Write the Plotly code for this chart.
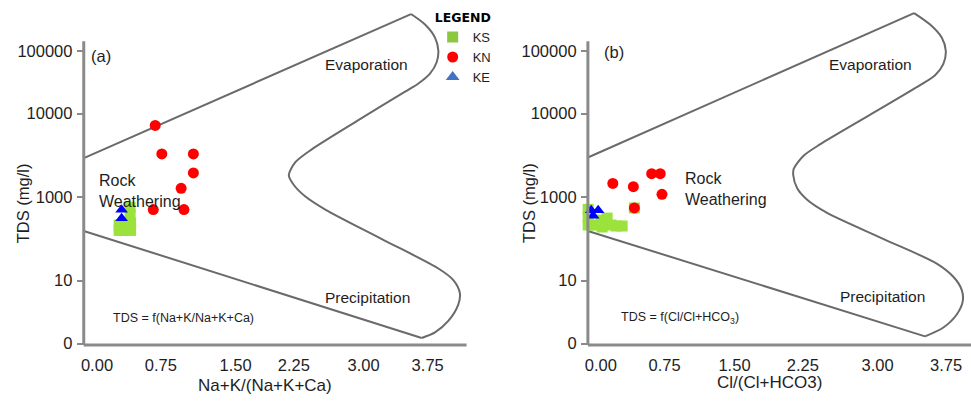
import plotly.graph_objects as go

W, H = 971, 402
FONT = "Arial, 'Liberation Sans', sans-serif"
TXT = "#1e1e1e"
AXIS_GREY = "#8a8a8a"
CURVE_GREY = "#6a6a6a"

# ---- tick labels (both panels share the same labels) ----
x_tick_labels = ["0.00", "0.75", "1.50", "2.25", "3.00", "3.75"]
y_tick_labels = ["0", "10", "1000", "10000", "100000"]

# ---- panel (a): Na+K/(Na+K+Ca) vs TDS ----
ks_a_x = [0.375, 0.375, 0.381, 0.381, 0.313, 0.251, 0.251, 0.313]
ks_a_y = [1.632, 1.538, 1.444, 1.355, 1.355, 1.355, 1.420, 1.432]
kn_a_x = [0.660, 0.735, 1.093, 1.093, 0.954, 0.638, 0.986]
kn_a_y = [2.612, 2.271, 2.271, 2.044, 1.859, 1.605, 1.605]
ke_a_x = [0.279, 0.279]
ke_a_y = [1.602, 1.502]

# Gibbs envelope, panel (a): upper limb, curved outline, lower limb
env_a_top_x = [-0.150, 3.561]
env_a_top_y = [2.220, 3.946]
env_a_curve_x = [3.561, 3.720, 3.833, 3.871, 3.852, 3.776, 3.645, 3.494, 2.959,
                 2.439, 2.250, 2.175, 2.232, 2.363, 2.589, 3.230, 3.871, 4.041,
                 4.115, 4.097, 3.984, 3.833, 3.682]
env_a_curve_y = [3.946, 3.820, 3.664, 3.506, 3.369, 3.232, 3.114, 3.016, 2.673,
                 2.329, 2.173, 2.016, 1.899, 1.761, 1.605, 1.252, 0.899, 0.761,
                 0.605, 0.467, 0.271, 0.134, 0.067]
env_a_bot_x = [3.682, -0.150]
env_a_bot_y = [0.067, 1.349]

# ---- panel (b): Cl/(Cl+HCO3) vs TDS ----
ks_b_x = [-0.138, -0.138, -0.138, -0.062, 0.003, 0.068, 0.112, 0.166, 0.231, 0.014, 0.364]
ks_b_y = [1.608, 1.514, 1.420, 1.420, 1.479, 1.503, 1.420, 1.408, 1.408, 1.396, 1.624]
kn_b_x = [0.130, 0.353, 0.552, 0.645, 0.664, 0.364]
kn_b_y = [1.918, 1.879, 2.035, 2.035, 1.788, 1.624]
ke_b_x = [-0.105, -0.029, -0.083]
ke_b_y = [1.596, 1.596, 1.532]

env_b_top_x = [-0.141, 3.403]
env_b_top_y = [2.228, 3.958]
env_b_curve_x = [3.403, 3.577, 3.703, 3.747, 3.721, 3.631, 3.468, 2.927, 2.385,
                 2.205, 2.096, 2.090, 2.133, 2.241, 2.458, 3.054, 3.649, 3.829,
                 3.920, 3.931, 3.866, 3.721, 3.522]
env_b_curve_y = [3.958, 3.820, 3.664, 3.506, 3.349, 3.212, 3.094, 2.741, 2.388,
                 2.252, 2.094, 2.016, 1.859, 1.722, 1.565, 1.261, 0.958, 0.800,
                 0.644, 0.506, 0.349, 0.193, 0.087]
env_b_bot_x = [3.522, -0.141]
env_b_bot_y = [0.087, 1.349]

fig = go.Figure()


def add_panel(xa, ya, ks, kn, ke, top, curve, bot):
    line = dict(color=CURVE_GREY, width=2)
    fig.add_trace(go.Scatter(x=top[0], y=top[1], mode="lines", line=line,
                             xaxis=xa, yaxis=ya, showlegend=False, hoverinfo="skip"))
    fig.add_trace(go.Scatter(x=curve[0], y=curve[1], mode="lines",
                             line=dict(color=CURVE_GREY, width=2, shape="spline", smoothing=0.8),
                             xaxis=xa, yaxis=ya, showlegend=False, hoverinfo="skip"))
    fig.add_trace(go.Scatter(x=bot[0], y=bot[1], mode="lines", line=line,
                             xaxis=xa, yaxis=ya, showlegend=False, hoverinfo="skip"))
    fig.add_trace(go.Scatter(x=ks[0], y=ks[1], mode="markers", name="KS",
                             marker=dict(symbol="square", size=11, color="#9be23c"),
                             xaxis=xa, yaxis=ya, showlegend=False, cliponaxis=False))
    fig.add_trace(go.Scatter(x=kn[0], y=kn[1], mode="markers", name="KN",
                             marker=dict(symbol="circle", size=11, color="#ff0000"),
                             xaxis=xa, yaxis=ya, showlegend=False, cliponaxis=False))
    fig.add_trace(go.Scatter(x=ke[0], y=ke[1], mode="markers", name="KE",
                             marker=dict(symbol="triangle-up", size=11, color="#0000ff"),
                             xaxis=xa, yaxis=ya, showlegend=False, cliponaxis=False))


add_panel("x", "y", (ks_a_x, ks_a_y), (kn_a_x, kn_a_y), (ke_a_x, ke_a_y),
          (env_a_top_x, env_a_top_y), (env_a_curve_x, env_a_curve_y), (env_a_bot_x, env_a_bot_y))
add_panel("x2", "y2", (ks_b_x, ks_b_y), (kn_b_x, kn_b_y), (ke_b_x, ke_b_y),
          (env_b_top_x, env_b_top_y), (env_b_curve_x, env_b_curve_y), (env_b_bot_x, env_b_bot_y))

# legend keys
for nm, sym, col, sz in [("KS", "square", "#8dc63f", 11),
                         ("KN", "circle", "#ff0000", 11),
                         ("KE", "triangle-up", "#4472c4", 12)]:
    fig.add_trace(go.Scatter(x=[None], y=[None], mode="markers", name=nm, legendgroup=nm,
                             marker=dict(symbol=sym, size=sz, color=col)))


def P(px, py):
    return px / W, 1 - py / H


y_dom = [1 - 351 / H, 1 - 10 / H]
y_rng = [-0.0153, 3.9965]
y_tickvals = [0, 0.753, 1.758, 2.753, 3.506]

common_x = dict(ticks="", showline=False, showgrid=False,
                zeroline=False, tickfont=dict(family=FONT, size=16.5, color=TXT),
                ticktext=x_tick_labels, tickmode="array", ticklabelstandoff=9)
common_y = dict(ticks="outside", ticklen=6, tickwidth=2, tickcolor=AXIS_GREY, showline=False,
                showgrid=False, zeroline=False, range=y_rng, domain=y_dom,
                tickvals=y_tickvals, ticktext=y_tick_labels, tickmode="array",
                tickfont=dict(family=FONT, size=16.5, color=TXT), ticklabelstandoff=1)

fig.update_layout(
    width=W, height=H, margin=dict(l=0, r=0, t=0, b=0),
    paper_bgcolor="white", plot_bgcolor="white",
    xaxis=dict(domain=[81 / W, 465 / W], range=[-0.1504, 4.191],
               tickvals=[0, 0.7236, 1.5715, 2.2318, 3.0232, 3.75], **common_x),
    yaxis=dict(anchor="x", **common_y),
    xaxis2=dict(domain=[586.7 / W, 1.0], range=[-0.1408, 4.021], anchor="y2",
                tickvals=[0, 0.693, 1.452, 2.194, 3.006, 3.75], **common_x),
    yaxis2=dict(anchor="x2", **common_y),
    legend=dict(x=431 / W, y=1 - 6 / H, xanchor="left", yanchor="top",
                bgcolor="rgba(0,0,0,0)", tracegroupgap=0, itemwidth=30,
                font=dict(family=FONT, size=13, color=TXT),
                title=dict(text="<b>LEGEND</b>",
                           font=dict(family="'DejaVu Sans', sans-serif", size=12.5, color="#000"))),
    showlegend=True,
)

# axis lines: vertical ones stop short of the top of the plotting area
for xr, yr, xd, yd in [("x domain", "y", "x domain", "y domain"),
                       ("x2 domain", "y2", "x2 domain", "y2 domain")]:
    fig.add_shape(type="line", xref=xr, yref=yr, x0=0, x1=0, y0=y_rng[0], y1=3.62,
                  line=dict(color=AXIS_GREY, width=3), layer="above")
    fig.add_shape(type="line", xref=xd, yref=yd, x0=0, x1=1, y0=0, y1=0,
                  line=dict(color=AXIS_GREY, width=3), layer="above")

ann = []


def text(px, py, s, size=16, xanchor="center", align="center", angle=0):
    x, y = P(px, py)
    ann.append(dict(x=x, y=y, xref="paper", yref="paper", text=s, showarrow=False,
                    xanchor=xanchor, yanchor="middle", align=align, textangle=angle,
                    font=dict(family=FONT, size=size, color=TXT)))


# panel (a)
text(86, 57, "(a)", 16.5, xanchor="left")
text(365, 66, "Evaporation", 15.5)
text(366, 303, "Precipitation", 15.5)
text(94, 194, "Rock<br>Weathering", 16, xanchor="left", align="left")
text(181.5, 324, "TDS = f(Na+K/Na+K+Ca)", 12.5)
text(20, 207, "TDS (mg/l)", 16.5, angle=-90)
text(263, 392, "Na+K/(Na+K+Ca)", 17)

# panel (b)
text(601, 53, "(b)", 16.5, xanchor="left")
text(870, 66, "Evaporation", 15.5)
text(882, 302, "Precipitation", 15.5)
text(682.5, 192.5, "Rock<br>Weathering", 16, xanchor="left", align="left")
text(679, 324, "TDS = f(Cl/Cl+HCO<sub>3</sub>)", 12.5)
text(528.3, 207, "TDS (mg/l)", 16.5, angle=-90)
text(769, 389, "Cl/(Cl+HCO3)", 17)

fig.update_layout(annotations=ann)

fig.write_html("out.html")
